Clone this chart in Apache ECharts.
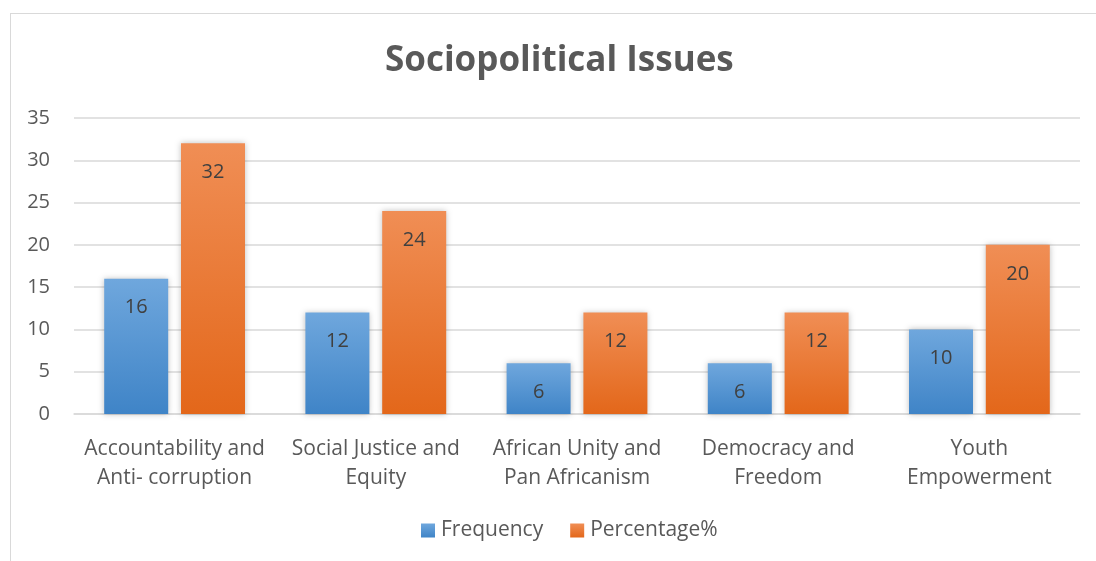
<!DOCTYPE html>
<html><head><meta charset="utf-8">
<script src="https://cdn.jsdelivr.net/npm/echarts@6/dist/echarts.min.js"></script>
<style>
html,body{margin:0;padding:0;background:#fff;overflow:hidden}
#frame{position:absolute;left:10px;top:13px;width:1100px;height:560px;border:1px solid #d9d9d9;box-sizing:border-box}
#c{position:absolute;left:0;top:0;width:1096px;height:561px}
</style></head>
<body>
<div id="frame"></div>
<div id="c"></div>
<script>
const categories = ["Accountability and\nAnti- corruption","Social Justice and\nEquity","African Unity and\nPan Africanism","Democracy and\nFreedom","Youth\nEmpowerment"];
const frequency = [16,12,6,6,10];
const percentage = [32,24,12,12,20];
const yTicks = {min:0,max:35,interval:5};
const FONT = "'Open Sans', 'Noto Sans', sans-serif";

const chart = echarts.init(document.getElementById('c'));
function grad(top,bottom){return new echarts.graphic.LinearGradient(0,0,0,1,[{offset:0,color:top},{offset:1,color:bottom}]);}
const labelCfg = {show:true,position:'insideTop',distance:19,color:'#404040',fontSize:20,fontFamily:FONT};
chart.setOption({
  animation:false,
  title:{text:'Sociopolitical Issues',left:385,top:44,padding:0,textStyle:{fontFamily:FONT,fontSize:35,fontWeight:'bold',color:'#595959'}},
  grid:{left:74,right:16,top:118,bottom:147},
  legend:{top:515,left:416,itemWidth:14,itemHeight:14,itemGap:27,icon:'rect',textStyle:{fontFamily:FONT,fontSize:21,color:'#595959',padding:[0,0,0,1]},data:['Frequency','Percentage%']},
  xAxis:{type:'category',data:categories,axisLine:{lineStyle:{color:'#d9d9d9',width:1.5}},axisTick:{show:false},
    axisLabel:{fontFamily:FONT,fontSize:21,color:'#595959',lineHeight:29,margin:21,interval:0}},
  yAxis:{type:'value',min:yTicks.min,max:yTicks.max,interval:yTicks.interval,axisLine:{show:false},axisTick:{show:false},
    splitLine:{lineStyle:{color:'#d9d9d9',width:1.5}},axisLabel:{fontFamily:FONT,fontSize:20,color:'#595959',margin:24}},
  series:[
    {name:'Frequency',type:'bar',data:frequency,barWidth:64,barGap:'20%',
     itemStyle:{color:grad('#6fa7dd','#3f84c7'),shadowColor:'rgba(0,0,0,0.25)',shadowBlur:6,shadowOffsetX:0,shadowOffsetY:0},label:labelCfg},
    {name:'Percentage%',type:'bar',data:percentage,barWidth:64,
     itemStyle:{color:grad('#f08e55','#e3671a'),shadowColor:'rgba(0,0,0,0.25)',shadowBlur:6,shadowOffsetX:0,shadowOffsetY:0},label:labelCfg}
  ]
});
</script>
</body></html>
